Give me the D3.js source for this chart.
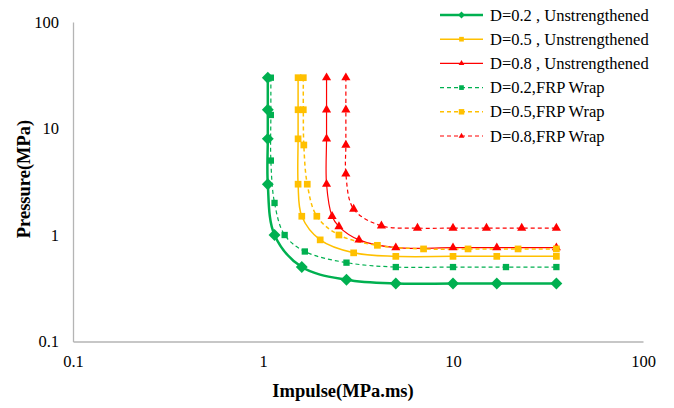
<!DOCTYPE html>
<html lang="en">
<head>
<meta charset="utf-8">
<script src="https://d3js.org/d3.v7.min.js"></script>
<style>
  body { margin: 0; background: #fff; }
  text { font-family: "Liberation Serif", "Times New Roman", serif; fill: #000; }
</style>
</head>
<body>
<div id="chart"></div>
<script>
// Data: [impulse (MPa.ms), pressure (MPa)]
const d02Unstr = [[1.06,30],[1.06,15],[1.06,8],[1.06,3],[1.15,1],[1.6,0.5],[2.75,0.38],[5,0.35],[10,0.35],[17,0.35],[35,0.35]];
const d05Unstr = [[1.53,30],[1.53,15],[1.53,8],[1.53,3],[1.6,1.5],[2,0.9],[3,0.68],[5,0.63],[10,0.63],[17,0.63],[35,0.63]];
const d08Unstr = [[2.16,30],[2.16,15],[2.16,8],[2.16,3],[2.31,1.5],[2.51,1.2],[3.2,0.9],[5,0.76],[10,0.76],[17,0.76],[35,0.76]];
const d02Frp = [[1.1,30],[1.1,13.4],[1.1,5],[1.15,2],[1.3,1],[1.66,0.7],[2.75,0.55],[5,0.5],[10,0.5],[19,0.5],[35,0.5]];
const d05Frp = [[1.63,30],[1.63,15],[1.64,7],[1.71,3],[1.92,1.5],[2.51,1],[4,0.8],[7,0.74],[12,0.74],[22,0.74],[35,0.74]];
const d08Frp = [[2.73,30],[2.73,15],[2.73,7],[2.73,3.75],[3,1.75],[4.2,1.22],[6.5,1.16],[10,1.16],[15,1.16],[23,1.16],[35,1.16]];

const seriesNames = ["D=0.2 , Unstrengthened", "D=0.5 , Unstrengthened", "D=0.8 , Unstrengthened",
                     "D=0.2,FRP Wrap", "D=0.5,FRP Wrap", "D=0.8,FRP Wrap"];
const seriesData = [d02Unstr, d05Unstr, d08Unstr, d02Frp, d05Frp, d08Frp];
const tickValues = [0.1, 1, 10, 100];

// styles per series
const styles = [
  {color: "#00B050", width: 2.5, dash: null,  marker: "diamond", size: 90, legSize: 30},
  {color: "#FFC000", width: 1.5, dash: null,  marker: "square",  size: 45, legSize: 22},
  {color: "#FF0000", width: 1.2, dash: null,  marker: "triangle", size: 36, legSize: 14},
  {color: "#00B050", width: 1.2, dash: "4,3", marker: "square",  size: 40, legSize: 22},
  {color: "#FFC000", width: 1.5, dash: "4,3", marker: "square",  size: 45, legSize: 30},
  {color: "#FF0000", width: 1.2, dash: "4,3", marker: "triangle", size: 36, legSize: 14}
];
const symbolType = {diamond: d3.symbolDiamond2, square: d3.symbolSquare, triangle: d3.symbolTriangle};

const W = 674, H = 408;
const svg = d3.select("#chart").append("svg")
  .attr("width", W).attr("height", H);

const x = d3.scaleLog().domain([0.1, 100]).range([73, 643]);
const y = d3.scaleLog().domain([0.1, 100]).range([341.5, 22]);

// axes
const xAxis = svg.append("g")
  .attr("transform", "translate(0," + y(0.1) + ")")
  .call(d3.axisBottom(x).tickValues(tickValues).tickFormat(d3.format("")).tickSize(0).tickPadding(14));
const yAxis = svg.append("g")
  .attr("transform", "translate(" + x(0.1) + ",0)")
  .call(d3.axisLeft(y).tickValues(tickValues).tickFormat(d3.format("")).tickSize(0).tickPadding(14));
[xAxis, yAxis].forEach(a => {
  a.select(".domain").attr("stroke", "#b4b4b4").attr("stroke-width", 1.3);
  a.selectAll("text").style("font-size", "16.5px").style("font-family", "Liberation Serif");
});

// axis titles
svg.append("text")
  .attr("x", 343).attr("y", 397)
  .attr("text-anchor", "middle")
  .style("font-weight", "bold").style("font-size", "18.5px")
  .text("Impulse(MPa.ms)");
svg.append("text")
  .attr("transform", "translate(30,179) rotate(-90)")
  .attr("text-anchor", "middle")
  .style("font-weight", "bold").style("font-size", "18.5px")
  .text("Pressure(MPa)");

// lines
const line = d3.line()
  .x(d => x(d[0]))
  .y(d => y(d[1]))
  .curve(d3.curveCatmullRom.alpha(0.5));

seriesData.forEach((data, i) => {
  const s = styles[i];
  svg.append("path")
    .datum(data)
    .attr("fill", "none")
    .attr("stroke", s.color)
    .attr("stroke-width", s.width)
    .attr("stroke-dasharray", s.dash)
    .attr("d", line);
});
seriesData.forEach((data, i) => {
  const s = styles[i];
  svg.append("g").selectAll("path")
    .data(data)
    .join("path")
    .attr("transform", d => "translate(" + x(d[0]) + "," + y(d[1]) + ")")
    .attr("d", d3.symbol().type(symbolType[s.marker]).size(s.size))
    .attr("fill", s.color);
});

// legend
const legend = svg.append("g");
seriesNames.forEach((name, i) => {
  const s = styles[i];
  const cy = 15 + i * 24.2;
  const g = legend.append("g").attr("transform", "translate(0," + cy + ")");
  g.append("line")
    .attr("x1", 440).attr("x2", 483).attr("y1", 0).attr("y2", 0)
    .attr("stroke", s.color)
    .attr("stroke-width", s.width)
    .attr("stroke-dasharray", s.dash);
  g.append("path")
    .attr("transform", "translate(461.5,0)")
    .attr("d", d3.symbol().type(symbolType[s.marker]).size(s.legSize))
    .attr("fill", s.color);
  g.append("text")
    .attr("x", 490).attr("y", 5.5)
    .style("font-size", "16.5px")
    .text(name);
});
</script>
</body>
</html>
